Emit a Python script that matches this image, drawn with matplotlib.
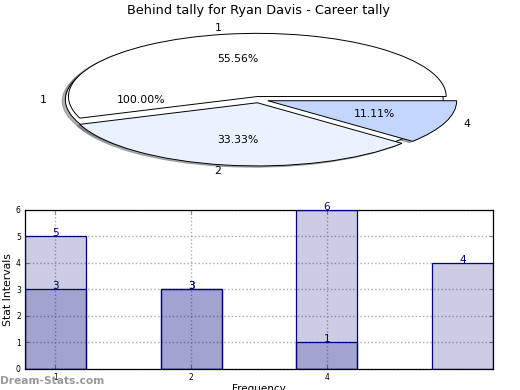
import numpy as np
import matplotlib
matplotlib.use("Agg")
import matplotlib.pyplot as plt

# ---- data ----
title = "Behind tally for Ryan Davis - Career tally"
pie_outer_vals = [1]
pie_outer_labels = ["1"]
pie_vals = [5, 3, 1]
pie_labels = ["1", "2", "4"]
pie_colors = ["#ffffff", "#ebf2ff", "#c2d6ff"]

bar_ticklabels = ["1", "2", "4"]
series_a = [5, 3, 6, 4]
series_b = [3, 3, 1]

fig = plt.figure(figsize=(5.2, 3.9), dpi=100)

# ---- pie (stretched, shadowed) ----
shadow = dict(ox=-0.012, oy=-0.015, shade=0.6)
ax_pie = fig.add_axes([0.044, 0.542, 0.908, 0.405])
ax_pie.pie(pie_outer_vals, labels=pie_outer_labels, autopct="%.2f%%",
           colors=["#ffffff"], shadow=shadow, explode=[0.025],
           wedgeprops=dict(edgecolor="black", linewidth=0.7),
           textprops=dict(fontsize=7.8))
ax_pie.pie(pie_vals, labels=pie_labels, autopct="%.2f%%",
           colors=pie_colors, shadow=shadow, explode=[0.05, 0.05, 0.05],
           wedgeprops=dict(edgecolor="black", linewidth=0.7),
           textprops=dict(fontsize=7.8))
ax_pie.set_aspect("auto")
ax_pie.set_xlim(-1.25, 1.25)
ax_pie.set_ylim(-1.25, 1.25)

fig.text(0.498, 0.974, title, ha="center", va="center", fontsize=9.3)

# ---- bars ----
ax = fig.add_axes([0.048, 0.054, 0.9, 0.408])
w = 0.45
navy = "#000080"
xa = np.arange(len(series_a))
xb = np.arange(len(series_b))
ax.bar(xa, series_a, width=w, color=navy, alpha=0.2, edgecolor="none", zorder=2)
ax.bar(xb, series_b, width=w, color=navy, alpha=0.2, edgecolor="none", zorder=2)
ax.bar(xa, series_a, width=w, fill=False, edgecolor=navy, linewidth=0.9, zorder=3)
ax.bar(xb, series_b, width=w, fill=False, edgecolor=navy, linewidth=0.9, zorder=3)
for x, v in zip(xa, series_a):
    ax.text(x, v, str(v), ha="center", va="baseline", color=navy, fontsize=7.5)
for x, v in zip(xb, series_b):
    ax.text(x, v, str(v), ha="center", va="baseline", color=navy, fontsize=7.5)

ax.set_xlim(-0.225, 3.225)
ax.set_ylim(0, 6)
ax.set_xticks(range(len(bar_ticklabels)))
ax.set_xticklabels(bar_ticklabels)
ax.set_yticks(range(0, 7))
ax.tick_params(labelsize=5.5, direction="in", top=True, right=True,
               color="#888888", length=3, pad=3)
ax.grid(True, linestyle=":", color="#aaaaaa", linewidth=1)
ax.set_axisbelow(True)
for s in ax.spines.values():
    s.set_linewidth(0.9)
ax.set_ylabel("Stat Intervals", fontsize=7.8, labelpad=2)

fig.text(259 / 520, 1 - 384 / 390, "Frequency", ha="center", va="top", fontsize=7.5)
fig.text(0.0, 1 - 381 / 390, "Dream-Stats.com", ha="left", va="center",
         fontsize=7.7, color="#999999", fontweight="bold")

fig.savefig("out.png", dpi=100)
